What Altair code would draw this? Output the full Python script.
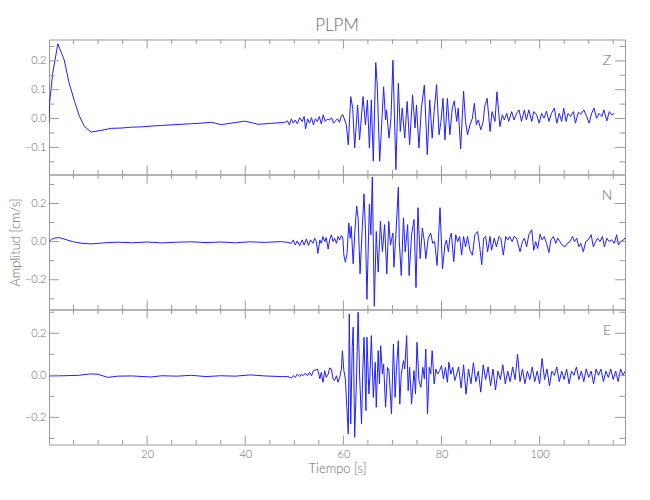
import altair as alt
import pandas as pd

# ---------------- data (time s, amplitude cm/s) -------------
Z_SAMPLES = [
    (0.0, -0.015), (0.15, 0.06), (0.75, 0.157), (1.8, 0.259), (3.1, 0.203), (4.1, 0.123),
    (5.2, 0.06), (6.2, 0.008), (7.2, -0.027), (8.6, -0.047), (10.6, -0.041), (12.7, -0.034),
    (14.7, -0.033), (16.8, -0.030), (18.8, -0.029), (20.8, -0.026), (22.9, -0.024),
    (24.9, -0.022), (26.9, -0.020), (29.0, -0.018), (31.0, -0.016), (33.1, -0.013),
    (35.1, -0.021), (37.5, -0.015), (39.9, -0.009), (41.2, -0.014), (42.6, -0.020),
    (45.0, -0.017), (47.35, -0.014),
    (48.0, -0.014), (48.6, -0.008), (49.0, -0.022), (49.4, -0.001), (49.8, -0.016),
    (50.2, -0.005), (50.6, -0.018), (51.1, 0.003), (51.6, -0.010), (52.0, 0.007),
    (52.3, -0.036), (52.7, -0.001), (53.1, -0.016), (53.5, 0.003), (53.9, -0.022),
    (54.3, -0.001), (54.7, -0.010), (55.1, 0.007), (55.5, -0.019), (55.9, 0.013),
    (56.3, -0.010), (56.7, -0.002), (57.2, -0.005), (57.6, 0.003), (58.0, -0.016),
    (58.4, -0.008), (58.8, -0.001), (59.2, -0.013), (59.6, 0.010), (59.9, 0.013),
    (60.6, -0.022), (61.0, -0.091), (61.5, 0.076), (61.9, 0.036), (62.3, -0.102),
    (62.9, 0.047), (63.3, -0.074), (64.0, 0.076), (64.5, -0.022), (64.9, 0.064),
    (65.3, -0.102), (65.7, 0.064), (66.1, -0.148), (66.6, 0.194), (66.9, 0.116),
    (67.4, -0.148), (67.8, -0.022), (68.2, 0.110), (68.6, -0.005), (68.8, 0.030),
    (69.3, -0.068), (69.7, 0.001), (70.1, 0.202), (70.7, -0.177), (71.2, 0.122),
    (71.6, -0.045), (72.0, 0.036), (72.5, -0.068), (73.0, 0.059), (73.5, -0.091),
    (74.1, 0.082), (74.6, -0.033), (74.9, 0.047), (75.4, -0.102), (75.9, 0.036),
    (76.5, 0.116), (77.1, -0.125), (77.6, 0.064), (78.1, -0.068), (78.5, 0.024),
    (79.0, 0.118), (79.5, -0.056), (79.9, -0.010), (80.3, 0.070), (80.7, -0.074),
    (81.2, 0.070), (81.7, -0.056), (82.2, 0.036), (82.6, 0.061), (83.1, -0.010),
    (83.4, 0.036), (83.9, -0.105), (84.5, 0.095), (84.9, -0.010), (85.3, -0.056),
    (85.8, -0.022), (86.3, 0.001), (86.7, 0.053), (87.1, -0.022), (87.5, -0.005),
    (88.0, -0.039), (88.5, -0.010), (88.8, 0.041), (89.3, 0.070), (89.9, -0.045),
    (90.3, 0.024), (90.9, -0.010), (91.3, 0.093), (91.9, -0.028), (92.4, 0.013),
    (92.8, -0.005), (93.3, 0.018), (93.7, -0.010), (94.3, 0.024), (94.8, -0.005),
    (95.3, 0.018), (95.8, 0.030), (96.3, -0.010), (96.9, 0.030), (97.3, -0.005),
    (97.8, 0.030), (98.4, -0.010), (98.8, 0.024), (99.4, 0.013), (99.9, -0.016),
    (100.4, 0.018), (100.9, 0.001), (101.4, 0.026), (101.9, -0.010), (102.4, 0.018),
    (103.0, 0.036), (103.5, -0.016), (104.0, 0.018), (104.5, -0.010), (104.9, 0.036),
    (105.4, -0.010), (105.8, 0.018), (106.3, 0.007), (106.9, 0.024), (107.3, -0.016),
    (107.9, 0.022), (108.4, 0.015), (109.0, 0.030), (109.6, 0.007), (110.1, -0.016),
    (110.6, 0.018), (111.1, 0.036), (111.6, 0.001), (112.1, 0.018), (112.7, 0.007),
    (113.1, 0.030), (113.7, -0.008), (114.2, 0.024), (114.7, 0.013), (115.2, 0.018),
]

N_SAMPLES = [
    (0.0, 0.0), (0.5, 0.012), (1.2, 0.019), (2.1, 0.021), (3.5, 0.010), (4.8, 0.0),
    (6.5, -0.008), (8.6, -0.012), (10.5, -0.008), (12.0, -0.005), (14.0, -0.003),
    (17.0, -0.006), (20.0, -0.002), (23.0, -0.007), (26.0, -0.003), (29.0, -0.001),
    (32.0, -0.005), (35.0, -0.002), (38.0, -0.006), (41.0, -0.001), (44.0, -0.004),
    (47.35, 0.0),
    (48.7, -0.004), (49.4, -0.009), (49.8, 0.009), (50.2, -0.018), (50.6, 0.004),
    (51.1, -0.021), (51.6, 0.009), (52.0, -0.018), (52.45, 0.014), (52.9, -0.021),
    (53.3, 0.009), (53.8, -0.009), (54.15, 0.018), (54.5, 0.0), (54.8, -0.062),
    (55.2, 0.009), (55.5, -0.009), (55.85, 0.027), (56.2, 0.0), (56.5, 0.021),
    (56.9, -0.039), (57.2, 0.009), (57.55, 0.036), (57.9, 0.0), (58.2, 0.018),
    (58.6, -0.009), (58.9, 0.027), (59.25, 0.009), (59.6, 0.032), (59.9, 0.018),
    (60.1, -0.071), (60.4, -0.107), (60.75, -0.062), (61.1, 0.098), (61.4, 0.018),
    (61.6, 0.080), (62.0, -0.116), (62.3, 0.036), (62.7, 0.187), (63.0, 0.125),
    (63.4, -0.169), (63.8, 0.045), (64.2, 0.250), (64.5, 0.062), (64.8, -0.303),
    (65.3, 0.196), (65.6, 0.036), (65.9, 0.339), (66.3, -0.339), (66.7, 0.053),
    (67.1, -0.160), (67.55, 0.107), (67.96, -0.053), (68.4, 0.089), (68.85, -0.169),
    (69.25, 0.107), (69.6, -0.018), (70.1, 0.045), (70.3, -0.134), (70.7, 0.036),
    (71.2, 0.285), (71.4, 0.0), (71.8, -0.178), (72.25, 0.125), (72.6, -0.053),
    (73.1, 0.089), (73.4, -0.178), (73.9, 0.036), (74.4, 0.116), (74.8, -0.241),
    (75.2, 0.178), (75.65, -0.089), (76.1, 0.071), (76.5, 0.0), (76.8, -0.089),
    (77.3, 0.018), (77.8, 0.045), (78.2, -0.009), (78.6, 0.0), (79.1, -0.125),
    (79.7, 0.178), (80.2, -0.143), (80.7, -0.018), (81.0, 0.009), (81.4, -0.053),
    (81.7, 0.018), (82.0, 0.045), (82.5, -0.105), (82.9, 0.036), (83.3, 0.0),
    (83.7, 0.027), (84.1, -0.071), (84.5, 0.027), (84.9, -0.027), (85.3, 0.027),
    (85.8, -0.045), (86.3, -0.071), (86.8, 0.036), (87.35, 0.053), (87.75, -0.018),
    (88.2, -0.121), (88.6, 0.018), (89.0, 0.027), (89.4, -0.053), (89.9, 0.027),
    (90.2, -0.045), (90.75, 0.018), (91.2, -0.027), (91.7, 0.027), (92.1, 0.018),
    (92.6, -0.071), (93.1, 0.027), (93.5, 0.009), (93.9, 0.027), (94.4, 0.0),
    (94.8, 0.027), (95.3, 0.018), (96.0, -0.053), (96.5, 0.0), (96.9, 0.018),
    (97.35, -0.027), (97.8, 0.036), (98.4, 0.062), (98.8, -0.045), (99.2, 0.0),
    (99.6, -0.036), (100.1, 0.039), (100.5, 0.009), (100.95, 0.027), (101.4, -0.009),
    (101.9, -0.057), (102.3, 0.009), (102.8, 0.027), (103.3, -0.009), (103.7, 0.018),
    (104.15, 0.0), (104.6, -0.018), (105.2, -0.027), (105.65, -0.009), (106.2, 0.0),
    (106.7, 0.027), (107.1, 0.0), (107.55, 0.018), (108.0, -0.027), (108.4, -0.009),
    (108.9, -0.053), (109.4, 0.0), (109.9, 0.009), (110.5, 0.036), (110.95, -0.027),
    (111.4, 0.0), (111.8, 0.018), (112.3, 0.0), (112.8, 0.027), (113.2, -0.027),
    (113.7, 0.018), (114.15, 0.0), (114.7, 0.009), (115.2, -0.009), (115.7, 0.036),
    (116.05, -0.018), (116.5, 0.0), (117.1, 0.009), (117.4, 0.020),
]

E_SAMPLES = [
    (0.0, -0.003), (3.0, -0.002), (6.0, 0.0), (8.5, 0.007), (10.0, 0.005), (12.0, -0.010),
    (14.0, -0.004), (17.0, -0.003), (20.8, -0.008), (23.0, -0.002), (26.0, -0.004),
    (29.0, 0.0), (32.0, -0.006), (35.0, -0.002), (38.0, -0.004), (41.0, 0.002),
    (44.0, -0.003), (47.35, -0.006),
    (48.7, -0.006), (49.4, -0.013), (49.8, -0.002), (50.2, -0.010), (50.6, 0.006),
    (51.1, -0.006), (51.4, 0.006), (51.8, -0.002), (52.25, 0.010), (52.7, -0.002),
    (53.1, 0.014), (53.5, -0.002), (53.9, 0.022), (54.3, 0.025), (54.7, 0.030),
    (55.0, 0.006), (55.2, -0.017), (55.5, 0.014), (55.85, -0.033), (56.2, 0.022),
    (56.5, -0.010), (56.9, 0.006), (57.2, 0.035), (57.55, 0.030), (57.9, -0.017),
    (58.2, -0.025), (58.6, -0.002), (58.9, -0.033), (59.25, -0.010), (59.6, 0.030),
    (59.8, 0.117), (60.1, 0.022), (60.4, -0.017), (60.7, -0.152), (61.0, -0.279),
    (61.2, 0.292), (61.5, -0.232), (61.8, 0.133), (62.0, 0.229), (62.3, -0.295),
    (62.7, 0.006), (63.0, 0.300), (63.3, 0.006), (63.7, -0.232), (63.95, 0.022),
    (64.2, 0.181), (64.6, -0.168), (64.8, 0.181), (65.2, -0.089), (65.4, -0.010),
    (65.7, 0.189), (66.1, -0.105), (66.5, 0.062), (66.7, -0.152), (67.1, 0.117),
    (67.35, -0.041), (67.6, 0.141), (67.96, 0.006), (68.2, 0.054), (68.6, -0.152),
    (69.0, 0.038), (69.3, 0.022), (69.8, -0.184), (70.2, 0.149), (70.55, -0.105),
    (70.8, 0.022), (71.2, 0.165), (71.5, -0.137), (71.8, 0.006), (72.25, 0.070),
    (72.5, 0.030), (72.9, 0.189), (73.2, -0.073), (73.5, 0.038), (73.9, -0.137),
    (74.4, 0.022), (74.7, -0.089), (75.0, 0.157), (75.4, -0.025), (75.8, -0.057),
    (76.2, 0.038), (76.5, -0.017), (76.8, 0.125), (77.15, -0.184), (77.5, 0.038),
    (77.8, 0.006), (78.1, 0.117), (78.5, -0.041), (78.85, 0.030), (79.2, 0.006),
    (79.6, 0.022), (80.0, 0.046), (80.4, -0.017), (80.8, 0.038), (81.2, -0.033),
    (81.5, 0.062), (81.9, 0.006), (82.3, 0.038), (82.7, -0.025), (83.1, 0.006),
    (83.5, 0.04), (84.0, -0.06), (84.5, 0.05), (85.0, -0.09), (85.5, 0.03), (86.0, -0.04),
    (86.5, 0.06), (87.0, -0.03), (87.5, 0.02), (88.0, -0.08), (88.5, 0.05), (89.0, -0.02),
    (89.5, 0.04), (90.0, -0.05), (90.5, 0.03), (91.0, -0.07), (91.5, 0.02), (92.0, -0.02),
    (92.5, 0.05), (93.0, -0.04), (93.5, 0.02), (94.0, -0.03), (94.5, 0.04), (95.0, -0.02),
    (95.5, 0.10), (96.0, -0.03), (96.5, 0.03), (97.0, -0.04), (97.5, 0.02), (98.0, -0.02),
    (98.5, 0.04), (99.0, -0.03), (99.5, 0.02), (100.0, -0.04), (100.5, 0.08), (101.0, -0.02),
    (101.5, 0.03), (102.0, -0.05), (102.5, 0.02), (103.0, 0.0), (103.5, 0.04), (104.0, -0.03),
    (104.5, 0.02), (105.0, -0.02), (105.5, 0.03), (106.0, -0.04), (106.5, 0.02), (107.0, 0.0),
    (107.5, 0.04), (108.0, -0.02), (108.5, 0.02), (109.0, -0.03), (109.5, 0.03), (110.0, -0.01),
    (110.5, 0.02), (111.0, -0.04), (111.5, 0.03), (112.0, 0.0), (112.5, 0.03), (113.0, -0.03),
    (113.5, 0.02), (114.0, -0.01), (114.5, 0.03), (115.0, -0.02), (115.5, 0.02), (116.0, -0.03),
    (116.5, 0.03), (117.0, 0.0), (117.4, 0.02),
]

COMPONENTS = ["Z", "N", "E"]
TITLE = "PLPM"
X_TITLE = "Tiempo [s]"
Y_TITLE = "Amplitud [cm/s]"

X_DOMAIN = [0.0, 117.4]
X_MAJOR = [20, 40, 60, 80, 100]
X_MINOR = [5, 10, 15, 25, 30, 35, 45, 50, 55, 65, 70, 75, 85, 90, 95, 105, 110, 115]

Y_DOMAINS = {"Z": [-0.194, 0.274], "N": [-0.356, 0.352], "E": [-0.329, 0.313]}
Y_MAJOR = {"Z": [-0.1, 0.0, 0.1, 0.2], "N": [-0.2, 0.0, 0.2], "E": [-0.2, 0.0, 0.2]}
Y_MINOR = {"Z": [-0.15, -0.05, 0.05, 0.15, 0.25], "N": [-0.3, -0.1, 0.1, 0.3],
           "E": [-0.3, -0.1, 0.1, 0.3]}

# ---------------- styling ----------------
FONT = "Lato"
TXT = "#6a6a6a"
AX = "#9a9a9a"
LINE = "#1f1fff"
W, H = 576, 135
XM_LEN, XN_LEN = 9, 4.5
YM_LEN, YN_LEN = 10, 5.5

AXIS_STYLE = dict(labelFont=FONT, labelFontSize=11, labelColor=TXT, labelFontWeight=300,
                  titleFont=FONT, titleFontSize=13, titleColor=TXT, titleFontWeight=300,
                  ticks=False, domain=False, grid=False)


def panel(comp, samples, bottom, ytitle):
    df = pd.DataFrame(samples, columns=["t", "v"])
    xs = alt.Scale(domain=X_DOMAIN, nice=False, zero=False)
    ys = alt.Scale(domain=Y_DOMAINS[comp], nice=False, zero=False)
    if bottom:
        xaxis = alt.Axis(values=X_MAJOR, format="d", title=X_TITLE, labelPadding=4,
                         titlePadding=3, **AXIS_STYLE)
    else:
        xaxis = None
    yaxis = alt.Axis(values=Y_MAJOR[comp], format=".1f", labelPadding=3,
                     title=ytitle if ytitle else "", titlePadding=2, **AXIS_STYLE)
    X = alt.X("t:Q", scale=xs, axis=xaxis)
    Y = alt.Y("v:Q", scale=ys, axis=yaxis)

    line = alt.Chart(df).mark_line(color=LINE, strokeWidth=1, clip=True).encode(x=X, y=Y)
    label = alt.Chart(pd.DataFrame({"c": [comp]})).mark_text(
        font=FONT, fontSize=14, fontWeight=300, color=TXT, align="center", baseline="middle"
    ).encode(text="c:N", x=alt.value(W - 18), y=alt.value(21))

    layers = [line, label]
    for vals, ln in ((X_MAJOR, XM_LEN), (X_MINOR, XN_LEN)):
        base = alt.Chart(pd.DataFrame({"t": vals})).mark_rule(color=AX, strokeWidth=1)
        layers.append(base.encode(x=X, y=alt.value(0), y2=alt.value(ln)))
        layers.append(base.encode(x=X, y=alt.value(H), y2=alt.value(H - ln)))
    for vals, ln in ((Y_MAJOR[comp], YM_LEN), (Y_MINOR[comp], YN_LEN)):
        base = alt.Chart(pd.DataFrame({"v": vals})).mark_rule(color=AX, strokeWidth=1)
        layers.append(base.encode(y=Y, x=alt.value(0), x2=alt.value(ln)))
        layers.append(base.encode(y=Y, x=alt.value(W), x2=alt.value(W - ln)))
    return alt.layer(*layers).properties(width=W, height=H)


charts = []
samples = {"Z": Z_SAMPLES, "N": N_SAMPLES, "E": E_SAMPLES}
for i, c in enumerate(COMPONENTS):
    charts.append(panel(c, samples[c], bottom=(i == 2), ytitle=(Y_TITLE if i == 1 else None)))

chart = alt.vconcat(*charts, spacing=0, bounds="flush").properties(
    title=alt.TitleParams(TITLE, font=FONT, fontSize=17, fontWeight=300, color=TXT,
                          anchor="middle", frame="group", offset=4),
    padding={"left": 0, "top": 8.5, "right": 5, "bottom": 5},
    background="white",
).configure_view(stroke=AX, strokeWidth=1)

chart.save("out.html", embed_options={"renderer": "svg", "actions": False})
